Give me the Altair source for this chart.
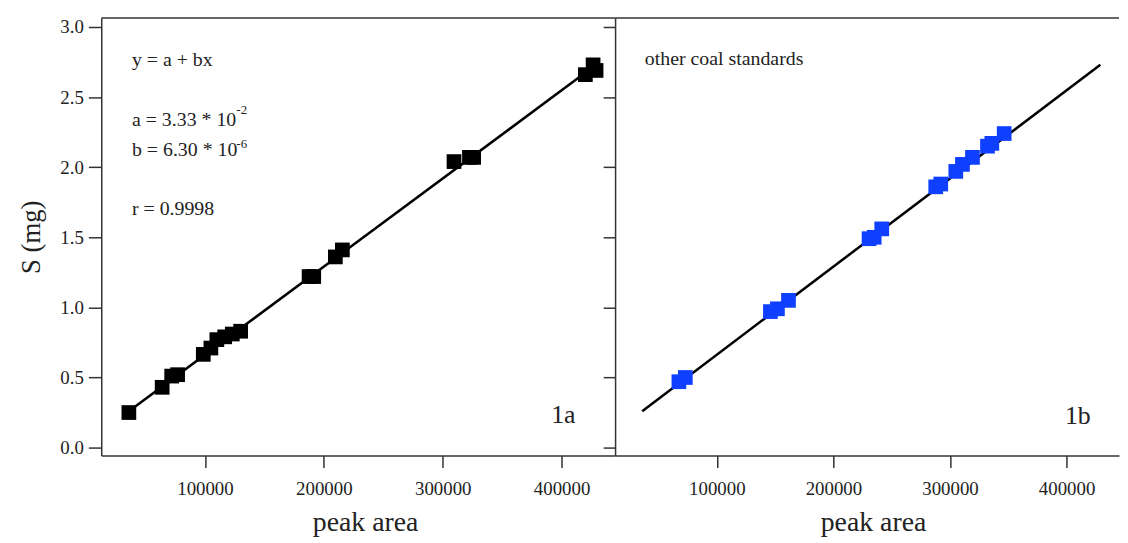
import altair as alt
import pandas as pd

FONT = "Liberation Serif"
TXT = "#222222"
LINEC = "#333333"

# ---- data ----
a_x = [36000, 64000, 72000, 77000, 98600, 105000, 110000, 116600, 123000, 130000,
       187600, 191500, 209700, 215600, 309500, 322500, 326000, 420000, 426500, 429000]
a_y = [0.25, 0.43, 0.51, 0.52, 0.665, 0.71, 0.77, 0.79, 0.81, 0.83,
       1.22, 1.22, 1.36, 1.41, 2.04, 2.07, 2.07, 2.66, 2.73, 2.69]

b_x = [67500, 73000, 146000, 152000, 161500, 230600, 235000, 241500,
       287800, 292100, 305000, 310700, 319300, 332200, 335900, 346500]
b_y = [0.47, 0.50, 0.97, 0.99, 1.05, 1.49, 1.50, 1.56,
       1.86, 1.88, 1.97, 2.02, 2.07, 2.15, 2.17, 2.24]

fit_a_x = [36000, 421000]
fit_a_y = [0.26, 2.68]
fit_b_x = [36000, 429000]
fit_b_y = [0.26, 2.73]

x_ticks = [100000, 200000, 300000, 400000]
y_ticks = [0.0, 0.5, 1.0, 1.5, 2.0, 2.5, 3.0]

XDOM = [12760, 445000]
YDOM = [-0.0566, 3.0637]

WA, WB, H = 518, 508, 441

# annotation texts (positions in data units)
ann_a = pd.DataFrame({
    "x": [38600, 38600, 38600, 38600],
    "y": [2.767, 2.335, 2.12, 1.705],
    "t": ["y = a + bx", "a = 3.33 * 10", "b = 6.30 * 10", "r = 0.9998"],
})
sup_a = pd.DataFrame({"x": [126400, 126400], "y": [2.41, 2.165], "t": ["-2", "-6"]})
lab_a = pd.DataFrame({"x": [411700], "y": [0.233], "t": ["1a"]})
ann_b = pd.DataFrame({"x": [38240], "y": [2.77], "t": ["other coal standards"]})
lab_b = pd.DataFrame({"x": [420700], "y": [0.223], "t": ["1b"]})

xs = alt.Scale(domain=XDOM, nice=False, zero=False)
ys = alt.Scale(domain=YDOM, nice=False, zero=False)


def x_axis(title_x):
    return alt.Axis(values=x_ticks, format="d", tickSize=12, labelPadding=12,
                    title="peak area", titlePadding=11, titleX=title_x, grid=False,
                    domainColor=LINEC, domainWidth=1.5, tickColor=LINEC, tickWidth=1.5,
                    labelFont=FONT, labelFontSize=19, labelColor=TXT,
                    titleFont=FONT, titleFontSize=28, titleFontWeight="normal",
                    titleColor=TXT)


y_axis_left = alt.Axis(values=y_ticks, format=".1f", tickSize=13, labelPadding=5,
                       title="S (mg)", titlePadding=14, grid=False,
                       domainColor=LINEC, domainWidth=1.5, tickColor=LINEC, tickWidth=1.5,
                       labelFont=FONT, labelFontSize=19, labelColor=TXT,
                       titleFont=FONT, titleFontSize=27, titleFontWeight="normal",
                       titleColor=TXT)

y_axis_right = alt.Axis(values=y_ticks, labels=False, tickSize=12, title=None, grid=False,
                        domainColor=LINEC, domainWidth=1.5, tickColor=LINEC, tickWidth=1.5)


def enc(ch, xa, ya):
    return ch.encode(
        x=alt.X("x:Q", scale=xs, axis=xa),
        y=alt.Y("y:Q", scale=ys, axis=ya),
    )


def text_layer(df, size, align, xa, ya):
    return alt.Chart(df).mark_text(font=FONT, fontSize=size, align=align,
                                   baseline="middle", color=TXT).encode(
        x=alt.X("x:Q", scale=xs, axis=xa),
        y=alt.Y("y:Q", scale=ys, axis=ya),
        text="t:N",
    )


# ---- panel 1a ----
xa_a = x_axis(266)
df_a = pd.DataFrame({"x": a_x, "y": a_y})
df_fa = pd.DataFrame({"x": fit_a_x, "y": fit_a_y})

line_a = enc(alt.Chart(df_fa).mark_line(color="black", strokeWidth=2.5), xa_a, y_axis_left)
pts_a = enc(alt.Chart(df_a).mark_square(size=220, color="black", opacity=1), xa_a, y_axis_left)
top_a = alt.Chart(pd.DataFrame({"k": [0]})).mark_rule(color=LINEC, strokeWidth=1.5).encode(
    x=alt.value(0), x2=alt.value(WA), y=alt.value(0)
)
left = alt.layer(
    line_a, pts_a,
    text_layer(ann_a, 20, "left", xa_a, y_axis_left),
    text_layer(sup_a, 13, "left", xa_a, y_axis_left),
    text_layer(lab_a, 26, "right", xa_a, y_axis_left),
    top_a,
).properties(width=WA, height=H)

# ---- panel 1b ----
xa_b = x_axis(260)
df_b = pd.DataFrame({"x": b_x, "y": b_y})
df_fb = pd.DataFrame({"x": fit_b_x, "y": fit_b_y})

line_b = enc(alt.Chart(df_fb).mark_line(color="black", strokeWidth=2.5), xa_b, y_axis_right)
pts_b = enc(alt.Chart(df_b).mark_square(size=220, color="#1040ff", opacity=1), xa_b, y_axis_right)
top_b = alt.Chart(pd.DataFrame({"k": [0]})).mark_rule(color=LINEC, strokeWidth=1.5).encode(
    x=alt.value(0), x2=alt.value(WB), y=alt.value(0)
)
right = alt.layer(
    line_b, pts_b,
    text_layer(ann_b, 20, "left", xa_b, y_axis_right),
    text_layer(lab_b, 26, "right", xa_b, y_axis_right),
    top_b,
).properties(width=WB, height=H)

chart = alt.hconcat(left, right, spacing=0, bounds="flush").configure_view(
    stroke=None
).properties(
    padding={"left": 10, "top": 7, "right": 0, "bottom": 0},
    background="white",
)

chart.save("out.html", embed_options={"renderer": "svg", "actions": False})
